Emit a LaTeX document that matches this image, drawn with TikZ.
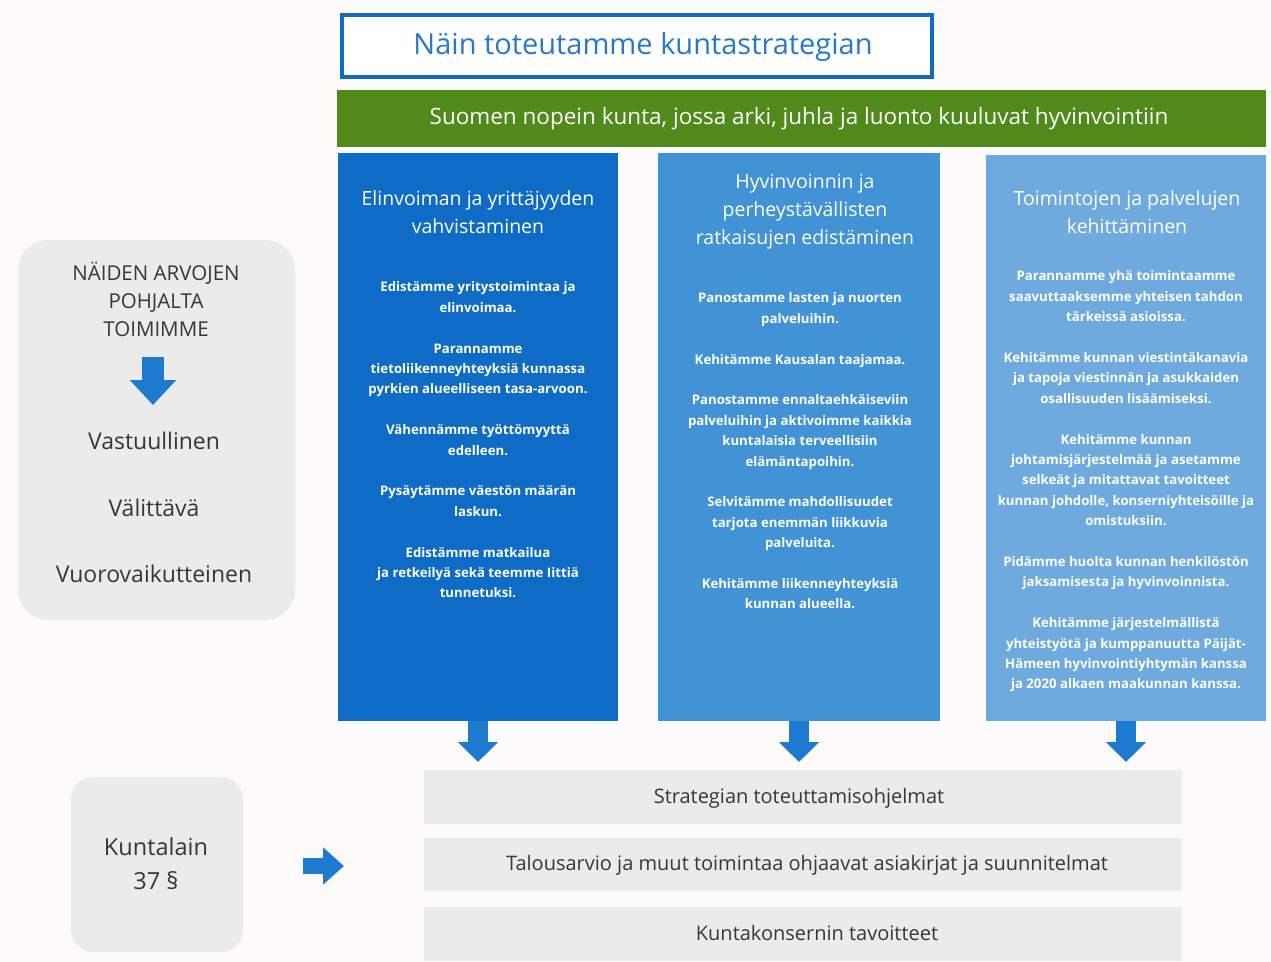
\documentclass[tikz,border=0pt]{standalone}
\usepackage{fontspec}
\setmainfont{Open Sans}
\usetikzlibrary{arrows.meta}
\definecolor{cA}{RGB}{14,108,198}
\definecolor{cB}{RGB}{66,147,213}
\definecolor{cC}{RGB}{110,170,222}
\definecolor{arr}{RGB}{30,122,206}
\definecolor{grn}{RGB}{80,138,26}
\definecolor{gry}{RGB}{236,235,235}
\definecolor{txt}{RGB}{55,55,55}
\definecolor{bg}{RGB}{253,251,249}
\definecolor{ttl}{RGB}{40,122,200}
\begin{document}
\begin{tikzpicture}[x=1pt,y=-1pt,
  box/.style={anchor=north west, inner sep=0pt, outer sep=0pt},
  coltext/.style={text=white, align=center, inner sep=0pt},
  colhead/.style={coltext, font=\fontsize{19.5}{28}\selectfont},
  colbody/.style={coltext, font=\fontsize{13.2}{20.4}\selectfont\bfseries},
  greytext/.style={text=txt, align=center, inner sep=0pt},
  downarrow/.style={draw=arr, line width=20pt, -{Triangle[width=39pt,length=20pt]}},
  bigdown/.style={draw=arr, line width=22pt, -{Triangle[width=45pt,length=25pt]}},
  rightarrow/.style={draw=arr, line width=16pt, -{Triangle[width=36pt,length=21pt]}}
]
\fill[bg] (0,0) rectangle (1271,961);
\useasboundingbox (0,0) rectangle (1271,961);

% title
\node[box, draw=cA, line width=4pt, fill=white, minimum width=590pt, minimum height=62pt] (title) at (342,15) {};
\node[text=ttl, font=\fontsize{29}{32}\selectfont] (titletext) at (643,47) {Näin toteutamme kuntastrategian};

% green vision bar
\node[box, fill=grn, minimum width=929pt, minimum height=57pt] (vision) at (337,90) {};
\node[text=white, font=\fontsize{22.5}{26}\selectfont] (visiontext) at (799,119) {Suomen nopein kunta, jossa arki, juhla ja luonto kuuluvat hyvinvointiin};

% columns
\node[box, fill=cA, minimum width=280pt, minimum height=568pt] (col1) at (338,153) {};
\node[box, fill=cB, minimum width=282pt, minimum height=568pt] (col2) at (658,153) {};
\node[box, fill=cC, minimum width=280pt, minimum height=566pt] (col3) at (986,155) {};

\node[colhead] (h1) at (478,212) {Elinvoiman ja yrittäjyyden\\vahvistaminen};
\node[colhead] (h2) at (805,212) {Hyvinvoinnin ja\\perheystävällisten\\ratkaisujen edistäminen};
\node[colhead] (h3) at (1127,212) {Toimintojen ja palvelujen\\kehittäminen};

\node[colbody] (b1) at (478,440) {Edistämme yritystoimintaa ja\\elinvoimaa.\\[20.4pt]
Parannamme\\tietoliikenneyhteyksiä kunnassa\\pyrkien alueelliseen tasa-arvoon.\\[20.4pt]
Vähennämme työttömyyttä\\edelleen.\\[20.4pt]
Pysäytämme väestön määrän\\laskun.\\[20.4pt]
Edistämme matkailua\\ja retkeilyä sekä teemme Iittiä\\tunnetuksi.};

\node[colbody] (b2) at (800,451) {Panostamme lasten ja nuorten\\palveluihin.\\[20.4pt]
Kehitämme Kausalan taajamaa.\\[20.4pt]
Panostamme ennaltaehkäiseviin\\palveluihin ja aktivoimme kaikkia\\kuntalaisia terveellisiin\\elämäntapoihin.\\[20.4pt]
Selvitämme mahdollisuudet\\tarjota enemmän liikkuvia\\palveluita.\\[20.4pt]
Kehitämme liikenneyhteyksiä\\kunnan alueella.};

\node[colbody] (b3) at (1126,481.5) {Parannamme yhä toimintaamme\\saavuttaaksemme yhteisen tahdon\\tärkeissä asioissa.\\[20.4pt]
Kehitämme kunnan viestintäkanavia\\ja tapoja viestinnän ja asukkaiden\\osallisuuden lisäämiseksi.\\[20.4pt]
Kehitämme kunnan\\johtamisjärjestelmää ja asetamme\\selkeät ja mitattavat tavoitteet\\kunnan johdolle, konserniyhteisöille ja\\omistuksiin.\\[20.4pt]
Pidämme huolta kunnan henkilöstön\\jaksamisesta ja hyvinvoinnista.\\[20.4pt]
Kehitämme järjestelmällistä\\yhteistyötä ja kumppanuutta Päijät-\\Hämeen hyvinvointiyhtymän kanssa\\ja 2020 alkaen maakunnan kanssa.};

% bottom bars
\node[box, fill=gry, minimum width=758pt, minimum height=54pt] (bar1) at (424,770) {};
\node[box, fill=gry, minimum width=758pt, minimum height=53pt] (bar2) at (424,838) {};
\node[box, fill=gry, minimum width=758pt, minimum height=54pt] (bar3) at (424,907) {};
\node[greytext, font=\fontsize{20}{24}\selectfont] (t1) at (799,798) {Strategian toteuttamisohjelmat};
\node[greytext, font=\fontsize{20}{24}\selectfont] (t2) at (807,865) {Talousarvio ja muut toimintaa ohjaavat asiakirjat ja suunnitelmat};
\node[greytext, font=\fontsize{20}{24}\selectfont] (t3) at (817,933) {Kuntakonsernin tavoitteet};

% arrows columns -> bars
\coordinate (s1) at (478,721);
\coordinate (s2) at (799,721);
\coordinate (s3) at (1126,721);
\coordinate (e1) at (478,762);
\coordinate (e2) at (799,762);
\coordinate (e3) at (1126,762);
\draw[downarrow] (s1) -- (e1);
\draw[downarrow] (s2) -- (e2);
\draw[downarrow] (s3) -- (e3);

% values box
\node[box, fill=gry, rounded corners=30pt, minimum width=277pt, minimum height=380pt] (values) at (18,240) {};
\node[greytext, font=\fontsize{20.5}{28}\selectfont] (vhead) at (156,299) {NÄIDEN ARVOJEN\\POHJALTA\\TOIMIMME};
\coordinate (va) at (153,357);
\coordinate (vb) at (153,405);
\draw[bigdown] (va) -- (vb);
\node[greytext, font=\fontsize{23}{26}\selectfont] (v1) at (154,441) {Vastuullinen};
\node[greytext, font=\fontsize{23}{26}\selectfont] (v2) at (154,508) {Välittävä};
\node[greytext, font=\fontsize{23}{26}\selectfont] (v3) at (154,574) {Vuorovaikutteinen};

% law box
\node[box, fill=gry, rounded corners=22pt, minimum width=172pt, minimum height=175pt] (law) at (71,777) {};
\node[greytext, font=\fontsize{23.5}{34}\selectfont] (lawtext) at (156,864) {Kuntalain\\37 §};
\coordinate (ra) at (303,866);
\coordinate (rb) at (344,866);
\draw[rightarrow] (ra) -- (rb);
\end{tikzpicture}
\end{document}
